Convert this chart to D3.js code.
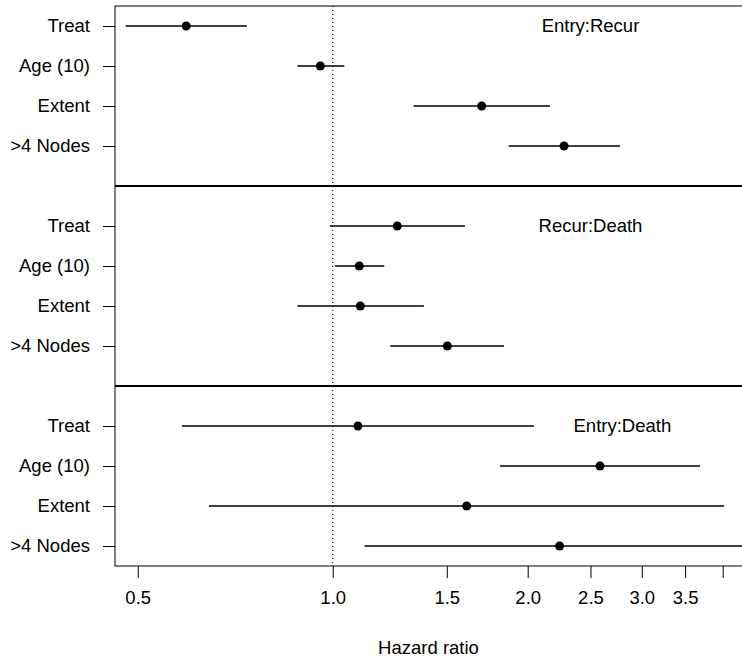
<!DOCTYPE html>
<html>
<head>
<meta charset="utf-8">
<script src="https://cdn.jsdelivr.net/npm/d3@7"></script>
<style>
  body { margin: 0; background: #fff; }
  svg { display: block; font-family: "Liberation Sans", Arial, sans-serif; }
</style>
</head>
<body>
<div id="viz1"></div>
<script>
// covariates (same in each transition panel)
var covariates = ["Treat", "Age (10)", "Extent", ">4 Nodes"];
var transitions = ["Entry:Recur", "Recur:Death", "Entry:Death"];
var labelPos = [2.5, 2.5, 2.8];

// hazard ratios and 95% limits, one array per transition
var hrEntryRecur = [0.594, 0.957, 1.698, 2.276];
var loEntryRecur = [0.479, 0.882, 1.333, 1.870];
var hiEntryRecur = [0.737, 1.042, 2.165, 2.776];

var hrRecurDeath = [1.258, 1.099, 1.103, 1.503];
var loRecurDeath = [0.990, 1.008, 0.882, 1.227];
var hiRecurDeath = [1.600, 1.201, 1.383, 1.839];

var hrEntryDeath = [1.094, 2.586, 1.61, 2.24];
var loEntryDeath = [0.585, 1.813, 0.644, 1.12];
var hiEntryDeath = [2.045, 3.690, 4.02, 5.2];

var xTicks = [0.5, 1.0, 1.5, 2.0, 2.5, 3.0, 3.5, 4.0];
var xTickLabels = ["0.5", "1.0", "1.5", "2.0", "2.5", "3.0", "3.5", ""];

var width = 742, height = 657;
var plotLeft = 115, plotRight = 762, plotTop = 6, plotBottom = 566;
var fontSize = 18.5;

var svg = d3.select("#viz1").append("svg")
    .attr("width", width)
    .attr("height", height);

var x = d3.scaleLog()
    .domain([0.4612, 4.60])
    .range([plotLeft, plotRight]);

var y = d3.scaleLinear()
    .domain([0.5, 14.5])
    .range([plotTop, plotBottom]);

var panels = [
  {hr: hrEntryRecur, lo: loEntryRecur, hi: hiEntryRecur},
  {hr: hrRecurDeath, lo: loRecurDeath, hi: hiRecurDeath},
  {hr: hrEntryDeath, lo: loEntryDeath, hi: hiEntryDeath}
];

var rows = [];
panels.forEach(function(p, i) {
  covariates.forEach(function(c, j) {
    rows.push({panel: i, name: c, pos: i * 5 + j + 1, hr: p.hr[j], lo: p.lo[j], hi: p.hi[j]});
  });
});

svg.append("clipPath").attr("id", "clip")
  .append("rect")
  .attr("x", plotLeft).attr("y", plotTop)
  .attr("width", width - plotLeft).attr("height", plotBottom - plotTop);

var plot = svg.append("g").attr("clip-path", "url(#clip)");

// reference line at HR = 1
plot.append("line")
    .attr("x1", x(1)).attr("x2", x(1))
    .attr("y1", plotTop).attr("y2", plotBottom)
    .attr("stroke", "#000")
    .attr("stroke-width", 1)
    .attr("stroke-dasharray", "1,3");

// confidence intervals
plot.append("g").selectAll("line")
    .data(rows)
    .join("line")
    .attr("x1", d => x(d.lo))
    .attr("x2", d => x(d.hi))
    .attr("y1", d => y(d.pos))
    .attr("y2", d => y(d.pos))
    .attr("stroke", "#000")
    .attr("stroke-width", 1.5);

// point estimates
plot.append("g").selectAll("circle")
    .data(rows)
    .join("circle")
    .attr("cx", d => x(d.hr))
    .attr("cy", d => y(d.pos))
    .attr("r", 4.5)
    .attr("fill", "#000");

// panel separators
plot.append("g").selectAll("line")
    .data([5, 10])
    .join("line")
    .attr("x1", plotLeft).attr("x2", plotRight)
    .attr("y1", d => y(d)).attr("y2", d => y(d))
    .attr("stroke", "#000")
    .attr("stroke-width", 2);

// panel labels
plot.append("g").selectAll("text")
    .data(transitions)
    .join("text")
    .attr("x", (d, i) => x(labelPos[i]))
    .attr("y", (d, i) => y(i * 5 + 1))
    .attr("dy", "0.35em")
    .attr("text-anchor", "middle")
    .attr("font-size", fontSize)
    .text(d => d);

// box
svg.append("rect")
    .attr("x", plotLeft).attr("y", plotTop)
    .attr("width", plotRight - plotLeft).attr("height", plotBottom - plotTop)
    .attr("fill", "none")
    .attr("stroke", "#000")
    .attr("stroke-width", 1);

// x axis
var xAxis = d3.axisBottom(x)
    .tickValues(xTicks)
    .tickFormat((d, i) => xTickLabels[i])
    .tickSize(12)
    .tickPadding(13);

var gx = svg.append("g")
    .attr("transform", "translate(0," + plotBottom + ")")
    .call(xAxis);
gx.select(".domain").remove();
gx.selectAll("text").attr("font-size", fontSize).attr("font-family", "Liberation Sans, Arial, sans-serif").attr("fill", "#000");
gx.selectAll("line").attr("stroke", "#000");

// y axis
var yAxis = d3.axisLeft(y)
    .tickValues(rows.map(d => d.pos))
    .tickFormat((d, i) => rows[i].name)
    .tickSize(12)
    .tickPadding(13);

var gy = svg.append("g")
    .attr("transform", "translate(" + plotLeft + ",0)")
    .call(yAxis);
gy.select(".domain").remove();
gy.selectAll("text").attr("font-size", fontSize).attr("font-family", "Liberation Sans, Arial, sans-serif").attr("fill", "#000");
gy.selectAll("line").attr("stroke", "#000");

// axis title
svg.append("text")
    .attr("x", (plotLeft + width) / 2)
    .attr("y", 654)
    .attr("text-anchor", "middle")
    .attr("font-size", fontSize)
    .text("Hazard ratio");
</script>
</body>
</html>
